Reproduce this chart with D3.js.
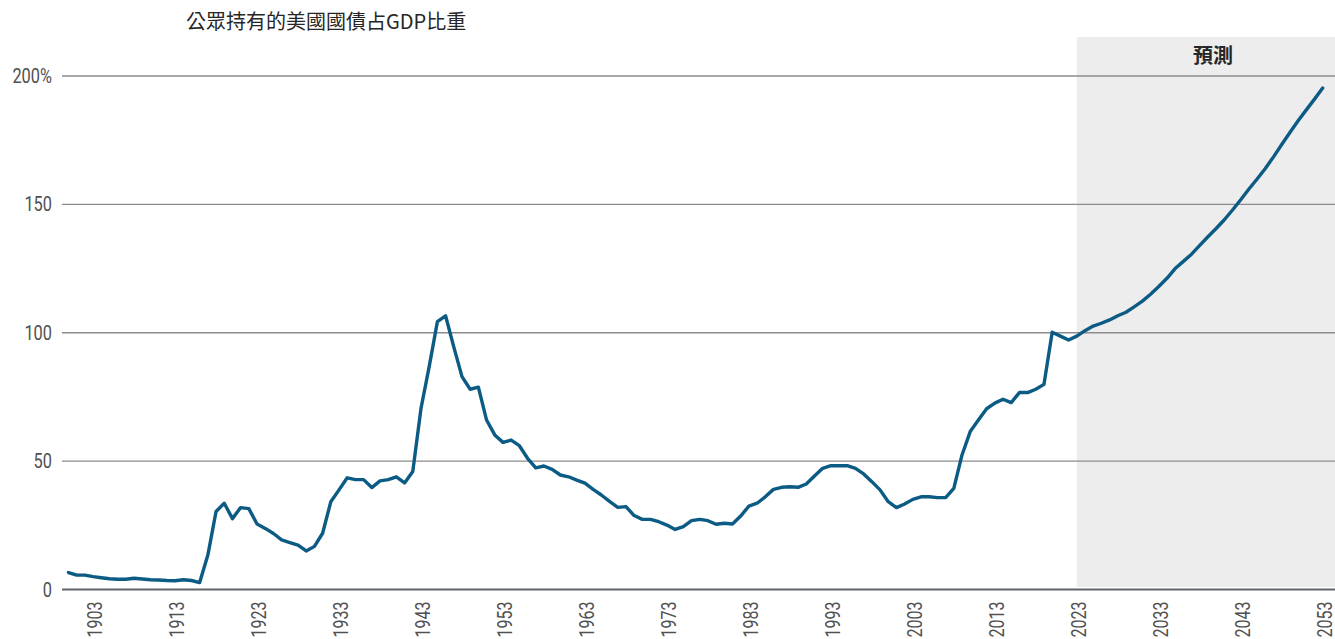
<!DOCTYPE html>
<html>
<head>
<meta charset="utf-8">
<script src="https://cdn.jsdelivr.net/npm/d3@7"></script>
<style>
  html, body { margin: 0; padding: 0; background: #fff; }
  svg { display: block; }
</style>
</head>
<body>
<svg id="chart" width="1335" height="639"></svg>
<script>
// ---- data ----
const title = "公眾持有的美國國債占GDP比重";
const forecastLabel = "預測";
const firstYear = 1900;
const lastYear = 2053;
const forecastStart = 2023;
const years = d3.range(firstYear, lastYear + 1);
const debtPct = [
  6.6, 5.6, 5.6, 5.0, 4.6, 4.2, 4.0, 4.0, 4.4, 4.1,          // 1900-1909
  3.8, 3.7, 3.5, 3.4, 3.8, 3.5, 2.7, 13.4, 30.4, 33.6,      // 1910-1919
  27.6, 31.9, 31.5, 25.5, 23.8, 21.8, 19.3, 18.3, 17.3, 15.0, // 1920-1929
  16.8, 21.9, 34.2, 38.8, 43.5, 42.8, 42.8, 39.7, 42.3, 42.8, // 1930-1939
  43.9, 41.5, 46.0, 70.5, 86.8, 104.3, 106.6, 94.5, 82.9, 78.0, // 1940-1949
  78.8, 66.0, 60.2, 57.3, 58.2, 56.0, 51.1, 47.4, 48.1, 46.8, // 1950-1959
  44.6, 43.9, 42.6, 41.4, 39.0, 36.8, 34.3, 32.0, 32.3, 28.8, // 1960-1969
  27.3, 27.3, 26.4, 25.1, 23.4, 24.5, 26.8, 27.3, 26.8, 25.4, // 1970-1979
  25.8, 25.5, 28.6, 32.5, 33.6, 36.1, 39.0, 39.8, 40.0, 39.8, // 1980-1989
  41.1, 44.2, 47.2, 48.2, 48.2, 48.2, 47.2, 45.0, 42.0, 38.8, // 1990-1999
  34.2, 31.9, 33.3, 35.1, 36.1, 36.1, 35.8, 35.8, 39.4, 52.4, // 2000-2009
  61.5, 66.0, 70.4, 72.6, 74.1, 72.8, 76.7, 76.7, 78.0, 79.9, // 2010-2019
  100.2, 98.7, 97.2, 98.7, 100.8, 102.6, 103.7, 105.0, 106.6, 108.0, // 2020-2029
  110.1, 112.3, 115.0, 118.0, 121.2, 125.0, 127.8, 130.6, 134.0, 137.4, // 2030-2039
  140.6, 144.0, 147.8, 151.8, 156.0, 159.9, 164.0, 168.5, 173.3, 178.0, // 2040-2049
  182.6, 186.8, 191.0, 195.3                                   // 2050-2053
];
const xTickYears = [1903, 1913, 1923, 1933, 1943, 1953, 1963, 1973, 1983, 1993, 2003, 2013, 2023, 2033, 2043, 2053];
const yTickValues = [0, 50, 100, 150, 200];
const yTickLabels = ["0", "50", "100", "150", "200%"];

// ---- chart ----
const W = 1335, H = 639;
const svg = d3.select("#chart");
const x = d3.scaleLinear().domain([firstYear, lastYear]).range([68.5, 1322.7]);
const y = d3.scaleLinear().domain([0, 200]).range([589.5, 76]);
const gridLeft = 62, gridRight = W;

const latin = "Roboto, 'Noto Sans', sans-serif";
const cjk = "'Noto Sans CJK TC', 'Noto Sans CJK SC', 'Noto Sans', sans-serif";

// forecast shading
svg.append("rect")
  .attr("x", x(forecastStart))
  .attr("y", 37)
  .attr("width", W - x(forecastStart))
  .attr("height", y(0) - 2.5 - 37)
  .attr("fill", "#ededed");

svg.append("text")
  .attr("x", 1213)
  .attr("y", 63)
  .attr("text-anchor", "middle")
  .attr("font-family", cjk)
  .attr("font-weight", 700)
  .attr("font-size", 20)
  .attr("fill", "#262626")
  .text(forecastLabel);

// gridlines
svg.append("g").selectAll("line")
  .data(yTickValues)
  .join("line")
  .attr("x1", gridLeft).attr("x2", gridRight)
  .attr("y1", d => y(d)).attr("y2", d => y(d))
  .attr("stroke", d => d === 0 ? "#5f656b" : "#8c8c8c")
  .attr("stroke-width", d => d === 0 ? 1.8 : 1.3);

// y labels
svg.append("g").selectAll("text")
  .data(yTickValues)
  .join("text")
  .attr("transform", d => `translate(52,${y(d)}) scale(0.84,1)`)
  .attr("dy", "0.36em")
  .attr("text-anchor", "end")
  .attr("font-family", latin)
  .attr("font-size", 19.5)
  .attr("fill", "#505050")
  .text((d, i) => yTickLabels[i]);

// x axis labels (via d3 axis)
const xAxis = d3.axisBottom(x)
  .tickValues(xTickYears)
  .tickFormat(d3.format("d"))
  .tickSize(0)
  .tickPadding(0);
const gx = svg.append("g")
  .attr("transform", `translate(0,${y(0)})`)
  .call(xAxis);
gx.select(".domain").remove();
gx.selectAll("text")
  .attr("x", 0).attr("y", 0)
  .attr("dy", "0.36em")
  .attr("transform", "translate(1.5,12) rotate(-90) scale(0.8,1)")
  .attr("text-anchor", "end")
  .attr("font-family", latin)
  .attr("font-size", 20)
  .attr("fill", "#505050");

// line
const line = d3.line()
  .x((d, i) => x(years[i]))
  .y(d => y(d));
svg.append("path")
  .datum(debtPct)
  .attr("d", line)
  .attr("fill", "none")
  .attr("stroke", "#0b5b84")
  .attr("stroke-width", 3.4)
  .attr("stroke-linejoin", "round")
  .attr("stroke-linecap", "round");

// title
svg.append("text")
  .attr("x", 186)
  .attr("y", 29)
  .attr("font-family", cjk)
  .attr("font-size", 20)
  .attr("fill", "#262626")
  .text(title);
</script>
</body>
</html>
